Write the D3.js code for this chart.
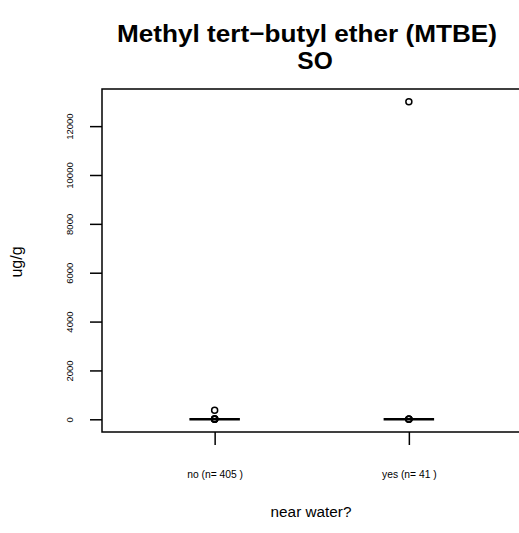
<!DOCTYPE html>
<html><head><meta charset="utf-8">
<script src="https://cdn.jsdelivr.net/npm/d3@7"></script>
<style>body{margin:0;background:#fff;} svg{display:block;font-family:"Liberation Sans",Arial,sans-serif;}</style>
</head><body>
<svg id="c" width="519" height="533"></svg>
<script>
const categories = ["no", "yes"];
const counts = [405, 41];
const medians = [0, 0];
const q1 = [0, 0];
const q3 = [0, 0];
const whiskLo = [0, 0];
const whiskHi = [0, 0];
const outliersNo = [0, 5, 10, 20, 370];
const outliersYes = [0, 5, 10, 13000];
const yTicks = [0, 2000, 4000, 6000, 8000, 10000, 12000];

(function () {
const svg = d3.select("#c");
const pL = 102, pR = 521.5, pT = 89, pB = 432;
const x = d3.scaleLinear().domain([0.42, 2.58]).range([pL, pR]);
const y = d3.scaleLinear().domain([-520, 13520]).range([pB, pT]);

svg.append("rect").attr("x", pL).attr("y", pT).attr("width", pR - pL).attr("height", pB - pT)
  .attr("fill", "none").attr("stroke", "#000").attr("stroke-width", 1.5);

const yAxis = d3.axisLeft(y).tickValues(yTicks).tickSize(12).tickFormat(d3.format("d"));
const ga = svg.append("g").attr("transform", `translate(${pL},0)`).call(yAxis);
ga.select(".domain").remove();
ga.selectAll(".tick line").attr("stroke-width", 1.5);
ga.selectAll(".tick text").attr("x", null).attr("dy", "0.35em")
  .attr("text-anchor", "middle").attr("font-size", 9.5).attr("fill", "#000")
  .attr("transform", "translate(-32,0) rotate(-90)");

const xAxis = d3.axisBottom(x).tickValues([1, 2]).tickSize(13)
  .tickFormat((d, i) => `${categories[i]} (n= ${counts[i]} )`);
const gx = svg.append("g").attr("transform", `translate(0,${pB})`).call(xAxis);
gx.select(".domain").remove();
gx.selectAll(".tick line").attr("stroke-width", 1.5);
gx.selectAll(".tick text").attr("font-size", 10.3).attr("fill", "#000").attr("y", 42).attr("dy", "0.35em");

const hw = 0.13;
const outs = [outliersNo, outliersYes];
categories.forEach((c, i) => {
  const cx = i + 1;
  svg.append("rect").attr("x", x(cx - hw)).attr("y", y(q3[i])).attr("width", x(cx + hw) - x(cx - hw))
    .attr("height", Math.max(0, y(q1[i]) - y(q3[i]))).attr("fill", "none").attr("stroke", "#000").attr("stroke-width", 1);
  svg.append("line").attr("x1", x(cx)).attr("x2", x(cx)).attr("y1", y(whiskHi[i])).attr("y2", y(q3[i])).attr("stroke", "#000");
  svg.append("line").attr("x1", x(cx)).attr("x2", x(cx)).attr("y1", y(whiskLo[i])).attr("y2", y(q1[i])).attr("stroke", "#000");
  svg.append("line").attr("x1", x(cx - hw)).attr("x2", x(cx + hw)).attr("y1", y(medians[i])).attr("y2", y(medians[i]))
    .attr("stroke", "#000").attr("stroke-width", 2.5);
  svg.selectAll(null).data(outs[i]).enter().append("circle")
    .attr("cx", x(cx)).attr("cy", d => y(d)).attr("r", 3).attr("fill", "none").attr("stroke", "#000").attr("stroke-width", 1.5);
});

svg.append("text").attr("x", 307).attr("y", 42).attr("text-anchor", "middle").attr("font-size", 24.5).attr("font-weight", "bold")
  .attr("textLength", 380).attr("lengthAdjust", "spacingAndGlyphs")
  .text("Methyl tert\u2212butyl ether (MTBE)");
svg.append("text").attr("x", 315).attr("y", 69).attr("text-anchor", "middle").attr("font-size", 24.5).attr("font-weight", "bold")
  .text("SO");
svg.append("text").attr("x", 311).attr("y", 517).attr("text-anchor", "middle").attr("font-size", 15.3).text("near water?");
svg.append("text").attr("transform", "translate(22,262) rotate(-90)").attr("text-anchor", "middle").attr("font-size", 16).text("ug/g");
})();
</script>
</body></html>
